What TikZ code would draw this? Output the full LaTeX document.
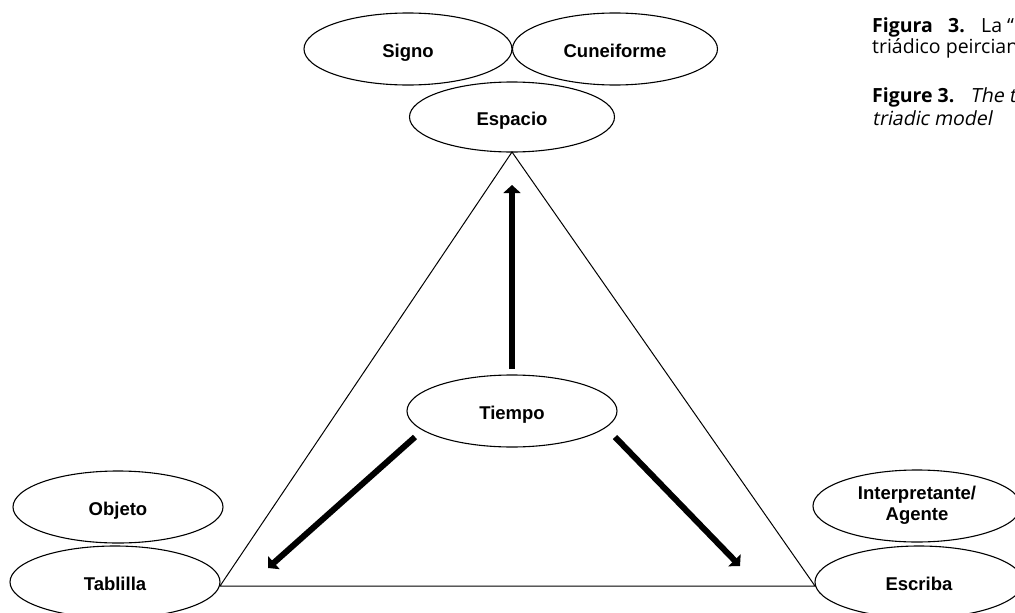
\documentclass[tikz,border=0pt]{standalone}
\usepackage{fontspec}
\setmainfont{Liberation Sans}
\newfontfamily\capfont{Open Sans}
\IfFontExistsTF{Open Sans Bold}{\newfontfamily\capbf{Open Sans Bold}}{\newfontfamily\capbf{Open Sans}[FakeBold=2]}
\newfontfamily\capit{Open Sans}[FakeSlant=0.2]
\usetikzlibrary{shapes.geometric,arrows.meta}
\tikzset{
  ell/.style={draw=black, line width=1.1pt, ellipse, inner sep=0pt,
    minimum width=210pt, minimum height=72pt, align=center,
    text height=18pt, text depth=2pt,
    font=\fontsize{18.5}{21}\selectfont\bfseries},
  ell2/.style={ell, text height=, text depth=},
  tri/.style={draw=black, line width=1pt},
  bigarrow/.style={draw=black, line width=6pt,
    -{Triangle[length=8pt,width=17pt]}},
  captext/.style={anchor=base west, inner sep=0pt, font=\capfont\fontsize{19.5}{21}\selectfont}
}
\begin{document}
\begin{tikzpicture}[x=1pt,y=-1pt]
\useasboundingbox (0,0) rectangle (1015,613);
\clip (0,0) rectangle (1015,613);
\node[ell, minimum width=208pt] (signo) at (408,49) {Signo};
\node[ell, minimum width=205pt] (cune) at (615,49) {Cuneiforme};
\node[ell, minimum width=205pt, minimum height=70pt] (espacio) at (512,117) {Espacio};
\node[ell] (tiempo) at (512,411) {Tiempo};
\node[ell] (objeto) at (118,507) {Objeto};
\node[ell] (tablilla) at (115,582) {Tablilla};
\node[ell2, minimum width=208pt] (interp) at (917,506)
  {\raisebox{-5pt}{\begin{tabular}{@{}c@{}}Interpretante/\\Agente\end{tabular}}};
\node[ell, minimum width=208pt] (escriba) at (919,582) {Escriba};

\coordinate (A) at (512,152);
\coordinate (B) at (220,586);
\coordinate (C) at (815,586);
\draw[tri] (B) -- (A) -- (C) -- (B);

\coordinate (u1) at (512,369);
\coordinate (u2) at (512,185);
\coordinate (l1) at (415,437);
\coordinate (l2) at (268,568);
\coordinate (r1) at (615,437);
\coordinate (r2) at (740,566);
\draw[bigarrow] (u1) -- (u2);
\draw[bigarrow] (l1) -- (l2);
\draw[bigarrow] (r1) -- (r2);

\node[captext] (c1) at (872,32) {\capbf Figura};
\node[captext] (c1b) at (948,32) {\capbf 3.};
\node[captext] (c1c) at (981,32) {La “};
\node[captext] (c2) at (872,53) {triádico peirciano};
\node[captext] (c3) at (872,102) {\capbf Figure 3.};
\node[captext] (c3b) at (970,102) {\capit The tr};
\node[captext] (c4) at (872,125) {\capit triadic model};
\end{tikzpicture}
\end{document}
